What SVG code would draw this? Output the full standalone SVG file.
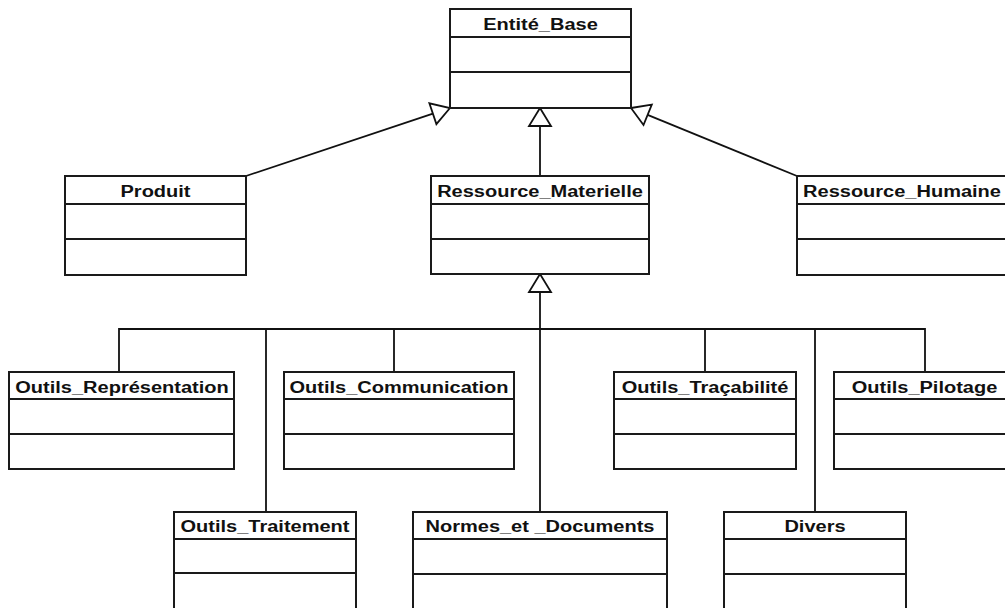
<svg xmlns="http://www.w3.org/2000/svg" width="1005" height="608" viewBox="0 0 1005 608">
<style>
.box{fill:#fff;stroke:#1a1a1a;stroke-width:2}
.div{stroke:#1a1a1a;stroke-width:2}
.t{font-family:"Liberation Sans",Arial,sans-serif;font-weight:bold;font-size:16px;fill:#111;text-anchor:middle}
.c{fill:none;stroke:#111;stroke-width:1.8}
.tri{fill:#fff;stroke:#111;stroke-width:1.8;stroke-linejoin:miter}
</style>
<rect width="1005" height="608" fill="#fff"/>
<g id="connectors">
<line class="c" x1="246" y1="176" x2="432.9" y2="113.7"/>
<polygon class="tri" points="450,108 436.4,124.1 429.4,103.3"/>
<line class="c" x1="540" y1="176" x2="540" y2="126"/>
<polygon class="tri" points="540,108 551,126 529,126"/>
<line class="c" x1="797" y1="176" x2="647.6" y2="114.8"/>
<polygon class="tri" points="631,108 651.8,104.6 643.5,125"/>
<line class="c" x1="540" y1="292" x2="540" y2="512"/>
<polygon class="tri" points="540,274 551,292 529,292"/>
<polyline class="c" points="119,372 119,329 925,329 925,372"/>
<line class="c" x1="266" y1="329" x2="266" y2="512"/>
<line class="c" x1="394" y1="329" x2="394" y2="372"/>
<line class="c" x1="705" y1="329" x2="705" y2="372"/>
<line class="c" x1="815" y1="329" x2="815" y2="512"/>
</g>
<g id="entite_base">
<rect class="box" x="450" y="9" width="181" height="99"/>
<line class="div" x1="450" y1="37" x2="631" y2="37"/>
<line class="div" x1="450" y1="72" x2="631" y2="72"/>
<text class="t" transform="translate(540.5,30) scale(1.25,1)">Entité_Base</text>
</g>
<g id="produit">
<rect class="box" x="65" y="176" width="181" height="99"/>
<line class="div" x1="65" y1="204" x2="246" y2="204"/>
<line class="div" x1="65" y1="239" x2="246" y2="239"/>
<text class="t" transform="translate(155.5,197) scale(1.25,1)">Produit</text>
</g>
<g id="ressource_materielle">
<rect class="box" x="431" y="176" width="218" height="98"/>
<line class="div" x1="431" y1="204" x2="649" y2="204"/>
<line class="div" x1="431" y1="239" x2="649" y2="239"/>
<text class="t" transform="translate(540,197) scale(1.25,1)">Ressource_Materielle</text>
</g>
<g id="ressource_humaine">
<rect class="box" x="797" y="176" width="213" height="99"/>
<line class="div" x1="797" y1="204" x2="1010" y2="204"/>
<line class="div" x1="797" y1="239" x2="1010" y2="239"/>
<text class="t" transform="translate(902,197) scale(1.25,1)">Ressource_Humaine</text>
</g>
<g id="outils_representation">
<rect class="box" x="9" y="372" width="225" height="97"/>
<line class="div" x1="9" y1="399" x2="234" y2="399"/>
<line class="div" x1="9" y1="434" x2="234" y2="434"/>
<text class="t" transform="translate(122,392.5) scale(1.25,1)">Outils_Représentation</text>
</g>
<g id="outils_communication">
<rect class="box" x="284" y="372" width="230" height="97"/>
<line class="div" x1="284" y1="399" x2="514" y2="399"/>
<line class="div" x1="284" y1="434" x2="514" y2="434"/>
<text class="t" transform="translate(399,392.5) scale(1.25,1)">Outils_Communication</text>
</g>
<g id="outils_tracabilite">
<rect class="box" x="614" y="372" width="182" height="97"/>
<line class="div" x1="614" y1="399" x2="796" y2="399"/>
<line class="div" x1="614" y1="434" x2="796" y2="434"/>
<text class="t" transform="translate(705,392.5) scale(1.25,1)">Outils_Traçabilité</text>
</g>
<g id="outils_pilotage">
<rect class="box" x="834" y="372" width="181" height="97"/>
<line class="div" x1="834" y1="399" x2="1015" y2="399"/>
<line class="div" x1="834" y1="434" x2="1015" y2="434"/>
<text class="t" transform="translate(924.5,392.5) scale(1.25,1)">Outils_Pilotage</text>
</g>
<g id="outils_traitement">
<rect class="box" x="174" y="512" width="182" height="110"/>
<line class="div" x1="174" y1="539" x2="356" y2="539"/>
<line class="div" x1="174" y1="573" x2="356" y2="573"/>
<text class="t" transform="translate(265,532) scale(1.25,1)">Outils_Traitement</text>
</g>
<g id="normes_et_documents">
<rect class="box" x="413" y="512" width="254" height="110"/>
<line class="div" x1="413" y1="539" x2="667" y2="539"/>
<line class="div" x1="413" y1="574" x2="667" y2="574"/>
<text class="t" transform="translate(540,532) scale(1.25,1)">Normes_et _Documents</text>
</g>
<g id="divers">
<rect class="box" x="724" y="512" width="182" height="110"/>
<line class="div" x1="724" y1="539" x2="906" y2="539"/>
<line class="div" x1="724" y1="574" x2="906" y2="574"/>
<text class="t" transform="translate(815,532) scale(1.25,1)">Divers</text>
</g>
</svg>
